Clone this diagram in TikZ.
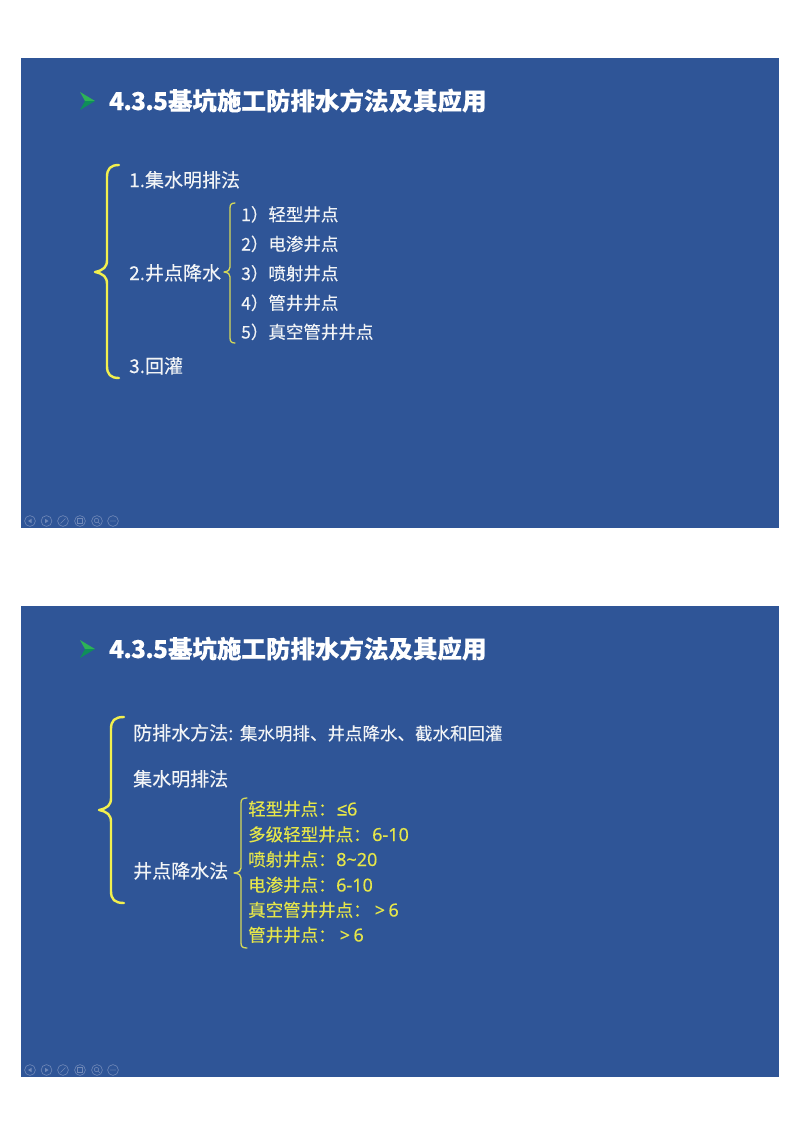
\documentclass[tikz,border=0pt]{standalone}
\usepackage{fontspec}
\setmainfont[FakeBold=0.2,BoldFeatures={FakeBold=0.2}]{Noto Sans CJK SC}
\newfontfamily\latfont[FakeBold=0.2]{Noto Sans}
\newfontfamily\symfont[FakeBold=0.2]{Liberation Sans}
\definecolor{slidebg}{HTML}{2F5597}
\definecolor{bracey}{HTML}{F2F04E}
\definecolor{texty}{HTML}{E6E64A}
\definecolor{textw}{HTML}{F2F4F6}
\definecolor{icon}{HTML}{7189B8}
\definecolor{gdark}{HTML}{0F8F5A}
\definecolor{glight}{HTML}{2DB356}
\newcommand{\fsz}[1]{\fontsize{#1}{#1}\selectfont}
\newcommand{\num}[1]{{\latfont\fsz{18}#1}}
\newcommand{\titlenum}{4\kern-0.8pt.\kern-0.8pt3\kern-0.8pt.\kern-0.8pt5}
% x-end, x-spine, x-tip, y-top, y-tip, y-bottom, radius
\newcommand{\curlybrace}[8][bigbrace]{%
  \draw[#1] (#2,#5) .. controls (#3+#8*0.3,#5) and (#3,#5+#8*0.3) .. (#3,#5+#8)
    -- (#3,#6-#8) .. controls (#3,#6-#8*0.4) and (#3-#8*0.3,#6-#8*0.15) .. (#4,#6)
    .. controls (#3-#8*0.3,#6+#8*0.15) and (#3,#6+#8*0.4) .. (#3,#6+#8)
    -- (#3,#7-#8) .. controls (#3,#7-#8*0.3) and (#3+#8*0.3,#7) .. (#2,#7);}
\newcommand{\toolbar}[1]{%
  \foreach \ix in {30,46.5,63,80,97,113}{\draw[iconline] (\ix,#1) circle (5.4);}
  \fill[icon] (31.5,#1-2.2) -- (28,#1) -- (31.5,#1+2.2) -- cycle;
  \fill[icon] (45,#1-2.2) -- (48.5,#1) -- (45,#1+2.2) -- cycle;
  \draw[iconline] (60.5,#1+2.5) -- (65.5,#1-2.5);
  \draw[iconline] (77.5,#1-2.5) rectangle (82,#1+2.5);
  \draw[iconline] (96.5,#1-0.5) circle (2.2) (98,#1+1) -- (100,#1+3);
  \fill[icon] (111,#1) circle (0.6) (113,#1) circle (0.6) (115,#1) circle (0.6);}
\newcommand{\arrowbullet}[1]{%
  \fill[glight] (80,#1-9) -- (95,#1) -- (85,#1) -- cycle;
  \fill[gdark] (80,#1+9) -- (95,#1) -- (85,#1) -- cycle;}
\tikzset{
  slide/.style={fill=slidebg,draw=none},
  bigbrace/.style={draw=bracey,line width=2.4pt,line cap=round,line join=round},
  smallbrace/.style={draw=bracey!85!slidebg,line width=1.3pt,line cap=round,line join=round},
  iconline/.style={draw=icon,line width=0.6pt},
  titletext/.style={anchor=base west,inner sep=0pt,text=white,font=\fsz{24.5}\bfseries},
  maintext/.style={anchor=base west,inner sep=0pt,text=textw,font=\fsz{19}},
  subtext/.style={anchor=base west,inner sep=0pt,text=textw,font=\fsz{17.5}},
  yeltext/.style={anchor=base west,inner sep=0pt,text=texty,font=\fsz{17.5}},
}
\begin{document}
\begin{tikzpicture}[x=1pt,y=-1pt]
\useasboundingbox (0,0) rectangle (800,1132);
\fill[white] (0,0) rectangle (800,1132);
% slide 1
\fill[slide] (21,58) rectangle (779,528);
\arrowbullet{101}
\node[titletext] (t1) at (109,110) {\titlenum 基坑施工防排水方法及其应用};
\curlybrace{119}{107}{95}{165}{272}{378}{12}
\node[maintext] (a1) at (129,187) {1.集水明排法};
\node[maintext] (a2) at (129,280) {2.井点降水};
\node[maintext] (a3) at (129,373) {3.回灌};
\curlybrace[smallbrace]{235}{230}{224}{203}{272}{343}{5}
\node[subtext] (b1) at (241,221) {1）轻型井点};
\node[subtext] (b2) at (241,250.5) {2）电渗井点};
\node[subtext] (b3) at (241,280) {3）喷射井点};
\node[subtext] (b4) at (241,309.5) {4）管井井点};
\node[subtext] (b5) at (241,338.5) {5）真空管井井点};
\toolbar{521}
% slide 2
\fill[slide] (21,606) rectangle (779,1077);
\arrowbullet{649}
\node[titletext] (t2) at (109,658) {\titlenum 基坑施工防排水方法及其应用};
\curlybrace{124}{111}{99}{717}{810}{903}{12}
\node[maintext] (c1) at (133,740) {防排水方法:\hspace{6.5pt}{\fsz{17.5}集水明排、井点降水、截水和回灌}};
\node[maintext] (c2) at (133,786) {集水明排法};
\node[maintext] (c3) at (133,878) {井点降水法};
\curlybrace[smallbrace]{247}{241}{234}{798}{873}{948}{5}
\node[yeltext] (d1) at (248,815.5) {轻型井点：\hspace{1.5pt}{\symfont\fsz{18}≤}\num{6}};
\node[yeltext] (d2) at (248,841) {多级轻型井点：\hspace{1.5pt}\num{6-10}};
\node[yeltext] (d3) at (248,866) {喷射井点：\hspace{0.5pt}\num{8\char`\~20}};
\node[yeltext] (d4) at (248,891.5) {电渗井点：\hspace{0.5pt}\num{6-10}};
\node[yeltext] (d5) at (248,916.5) {真空管井井点：\hspace{4pt}\num{>\hspace{3.5pt}6}};
\node[yeltext] (d6) at (248,941.5) {管井井点：\hspace{4pt}\num{>\hspace{3.5pt}6}};
\toolbar{1070}
\end{tikzpicture}
\end{document}
